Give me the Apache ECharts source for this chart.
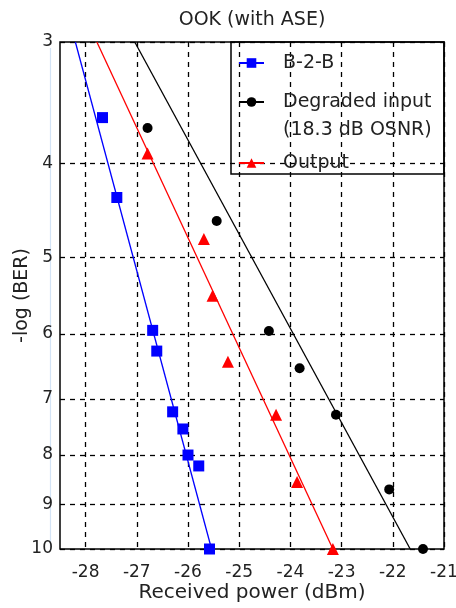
<!DOCTYPE html>
<html><head><meta charset="utf-8">
<script src="https://cdn.jsdelivr.net/npm/echarts@6/dist/echarts.min.js"></script>
<style>html,body{margin:0;padding:0;background:#fff}#c{width:456px;height:608px}</style>
</head><body><div id="c"></div>
<script>
// ---- data ----
const xTicks = [-28, -27, -26, -25, -24, -23, -22, -21];
const yTicks = [3, 4, 5, 6, 7, 8, 9, 10];

const b2bX = [-27.67, -27.39, -26.69, -26.61, -26.30, -26.10, -26.00, -25.79, -25.58];
const b2bY = [3.59, 4.34, 5.95, 6.25, 7.22, 7.52, 8.00, 8.21, 10];
const degX = [-26.79, -25.44, -24.42, -23.82, -23.11, -22.07, -21.41];
const degY = [3.68, 4.59, 5.96, 6.51, 7.27, 8.68, 10];
const outX = [-26.79, -25.69, -25.52, -25.22, -24.28, -23.87, -23.17];
const outY = [3.91, 4.79, 5.48, 6.41, 7.27, 8.53, 10];

const fitY = [3, 10];
const b2bFitX = [-28.2, -25.54];
const degFitX = [-27.04, -21.66];
const outFitX = [-27.78, -23.17];

// y axis is linear in log10(-log BER)
const T = v => Math.log10(v);
const pts = (xs, ys) => xs.map((x, i) => [x, T(ys[i])]);

const FONT = 'DejaVu Sans';
const TXT = '#222';

const chart = echarts.init(document.getElementById('c'), null, {renderer: 'canvas'});
chart.setOption({
  animation: false,
  backgroundColor: '#fff',
  title: {
    text: 'OOK (with ASE)', left: 252, top: 11, textAlign: 'center', padding: 0,
    textStyle: {fontFamily: FONT, fontSize: 19, fontWeight: 'normal', color: TXT}
  },
  grid: {left: 60, right: 12, top: 42, bottom: 59, outerBoundsMode: 'none', containLabel: false,
    show: true, borderColor: '#000', borderWidth: 1.5, backgroundColor: 'transparent'},
  xAxis: {
    type: 'value', min: -28.5, max: -21,
    name: 'Received power (dBm)', nameLocation: 'middle', nameGap: 34, nameMoveOverlap: false,
    nameTextStyle: {fontFamily: FONT, fontSize: 20, color: TXT},
    axisLine: {show: false},
    axisTick: {show: false, customValues: xTicks},
    axisLabel: {customValues: xTicks, fontFamily: FONT, fontSize: 17, color: TXT, margin: 15},
    splitLine: {show: true, lineStyle: {color: '#000', type: [5, 5], width: 1.3}}
  },
  yAxis: {
    type: 'value', min: T(3), max: 1, inverse: true,
    name: '-log (BER)', nameLocation: 'middle', nameGap: 28, nameRotate: 90, nameMoveOverlap: false,
    nameTextStyle: {fontFamily: FONT, fontSize: 19, color: TXT},
    axisLine: {show: false},
    axisTick: {show: false, customValues: yTicks.map(T)},
    axisLabel: {customValues: yTicks.map(T), fontFamily: FONT, fontSize: 17, color: TXT, margin: 7,
      formatter: v => String(Math.round(Math.pow(10, v)))},
    splitLine: {show: true, lineStyle: {color: '#000', type: [5, 5], width: 1.3}}
  },
  legend: [
    {
      orient: 'vertical', left: 238, top: 53, padding: 0, itemGap: 19, selectedMode: false,
      itemWidth: 25, itemHeight: 12,
      textStyle: {fontFamily: FONT, fontSize: 19, color: TXT, lineHeight: 20, padding: [0, 0, 0, 14]},
      data: ['B-2-B', 'Degraded input']
    },
    {
      orient: 'vertical', left: 238, top: 120, padding: 0, itemGap: 13, selectedMode: false,
      itemWidth: 25, itemHeight: 12,
      textStyle: {fontFamily: FONT, fontSize: 19, color: TXT, lineHeight: 20, padding: [0, 0, 0, 14]},
      data: [{name: '(18.3 dB OSNR)', icon: 'none'}, 'Output']
    }
  ],
  graphic: [
    {type: 'rect', shape: {x: 231, y: 42, width: 213, height: 132},
      style: {fill: 'none', stroke: '#000', lineWidth: 1.5}, z: 100},
    {type: 'line', shape: {x1: 50.5, y1: 48, x2: 50.5, y2: 548},
      style: {stroke: '#d3e3f5', lineWidth: 1.2}, z: -1}
  ],
  series: [
    {name: 'B-2-B', type: 'line', data: pts(b2bFitX, fitY), symbol: 'rect', symbolSize: 10, showSymbol: false,
      lineStyle: {color: '#0000ff', width: 1.3}, itemStyle: {color: '#0000ff'}, z: 3},
    {name: 'Degraded input', type: 'line', data: pts(degFitX, fitY), symbol: 'circle', symbolSize: 8, showSymbol: false,
      lineStyle: {color: '#000', width: 1.3}, itemStyle: {color: '#000'}, z: 3},
    {name: '(18.3 dB OSNR)', type: 'line', data: []},
    {name: 'Output', type: 'line', data: pts(outFitX, fitY), symbol: 'triangle', symbolSize: 11, showSymbol: false,
      lineStyle: {color: '#ff0000', width: 1.3}, itemStyle: {color: '#ff0000'}, z: 3},
    {name: 'B-2-B pts', type: 'scatter', data: pts(b2bX, b2bY), symbol: 'rect', symbolSize: 11,
      itemStyle: {color: '#0000ff', opacity: 1}, z: 4},
    {name: 'Degraded pts', type: 'scatter', data: pts(degX, degY), symbol: 'circle', symbolSize: 10,
      itemStyle: {color: '#000', opacity: 1}, z: 4},
    {name: 'Output pts', type: 'scatter', data: pts(outX, outY), symbol: 'triangle', symbolSize: 12,
      itemStyle: {color: '#ff0000', opacity: 1}, z: 4}
  ]
});
</script>
</body></html>
